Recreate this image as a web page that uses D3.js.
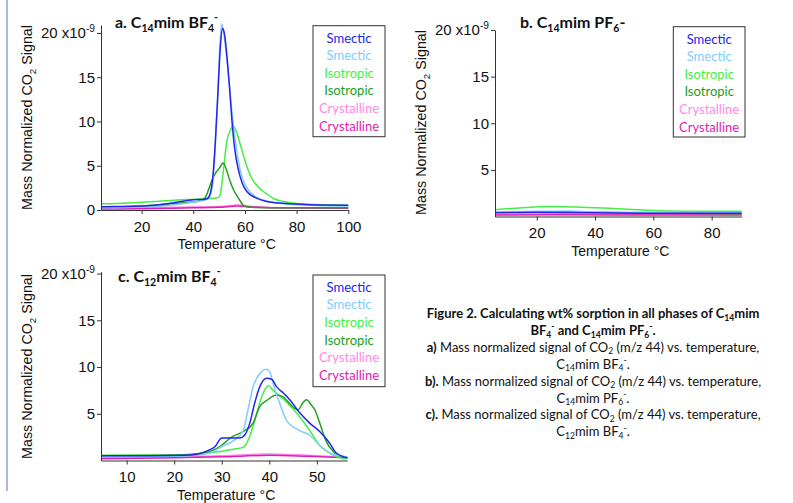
<!DOCTYPE html>
<html>
<head>
<meta charset="utf-8">
<script src="https://cdn.jsdelivr.net/npm/d3@7"></script>
<style>
  body { margin: 0; background: #fff; }
  svg text { font-family: "Liberation Sans", Arial, sans-serif; }
  .cal { font-family: Lato, "Open Sans", sans-serif; }
</style>
</head>
<body>
<div id="chart"></div>
<script>

// ---- data (temperature °C, signal in 1e-9 units) ----

const phaseNames = ["Smectic", "Smectic", "Isotropic", "Isotropic", "Crystalline", "Crystalline"];
const phaseColors = ["#2424ee", "#80ccff", "#44ee44", "#22a022", "#ff88e6", "#e01cb4"];

// panel a: C14mim BF4-
const aSmecticDark = [[4.3,0.38],[10,0.4],[20,0.45],[25,0.55],[30,0.7],[35,0.95],[40,1.15],[44,1.2],[45.5,1.3],[46.5,1.8],[47.5,3.5],[48.5,7.5],[49.5,13],[50.5,18.5],[51.3,20.5],[52,20],[53,17.5],[54,14],[55,10],[56,7],[57.5,4.5],[59,3],[61,2],[64,1.4],[68,1.0],[75,0.75],[85,0.6],[100,0.55]];
const aSmecticLight = [[4.3,0.25],[20,0.35],[30,0.5],[38,0.8],[42,1.0],[45,1.15],[46.5,1.6],[47.5,3],[48.5,7],[49.5,13],[50.3,18.5],[51,21],[51.8,20],[53,17],[54,14],[55,11],[56,8.5],[57.5,5.5],[59,3.6],[61,2.4],[64,1.5],[70,0.9],[80,0.6],[100,0.45]];
const aIsoLight = [[4.3,0.7],[15,0.8],[25,0.95],[35,1.15],[40,1.2],[45,1.3],[49,1.35],[50.3,1.6],[51,2.8],[51.8,4.8],[53,7.8],[54.2,8.9],[55.4,9.5],[56.5,9],[58,7.6],[60,5.6],[61.5,4.3],[63,3.4],[65.5,2.5],[68,1.9],[71,1.3],[75,0.95],[81,0.7],[90,0.6],[100,0.55]];
const aIsoDark = [[4.3,0.3],[15,0.4],[25,0.55],[35,0.8],[42,1.0],[44,1.2],[45,1.6],[46.3,2.6],[47.3,3.4],[48.5,4.1],[49.5,4.5],[50.5,4.9],[51.5,5.3],[52.3,5.0],[53,4.4],[54.2,3.3],[55.4,2.4],[56.7,1.7],[58,1.1],[59.5,0.5],[62,0.3],[75,0.25],[100,0.25]];
const aCrystLight = [[4.3,0.2],[20,0.25],[40,0.35],[50,0.4],[55,0.5],[57,0.6],[60,0.5],[65,0.35],[75,0.25],[100,0.2]];
const aCrystDark = [[4.3,0.1],[20,0.15],[40,0.25],[50,0.3],[57,0.45],[62,0.35],[70,0.25],[100,0.2]];

// panel b: C14mim PF6-
const bSmecticDark = [[5.7,0.4],[20,0.45],[40,0.4],[60,0.35],[90.3,0.35]];
const bSmecticLight = [[5.7,0.5],[20,0.55],[30,0.6],[40,0.5],[60,0.45],[90.3,0.4]];
const bIsoLight = [[5.7,0.72],[15,0.95],[25,1.07],[35,1.0],[45,0.88],[55,0.72],[65,0.58],[75,0.55],[90.3,0.55]];
const bIsoDark = [[5.7,0.45],[20,0.5],[35,0.5],[50,0.4],[70,0.35],[90.3,0.3]];
const bCrystLight = [[5.7,0.25],[30,0.3],[60,0.25],[90.3,0.25]];
const bCrystDark = [[5.7,0.15],[30,0.2],[60,0.15],[90.3,0.15]];

// panel c: C12mim BF4-
const cSmecticDark = [[4.6,0.5],[15,0.5],[22,0.55],[25,0.7],[26.8,1.0],[28.6,1.5],[30,2.4],[31.7,2.4],[33.8,2.4],[34.8,2.7],[35.9,4.0],[36.9,6.1],[38,7.9],[39.4,8.8],[40.5,8.7],[41.5,7.9],[43,7.2],[44.3,6.5],[46.4,5.1],[48.5,4.0],[50.6,3.1],[52.7,1.85],[54.1,0.8],[56.4,0.3]];
const cSmecticLight = [[4.6,0.4],[20,0.45],[25,0.6],[28,0.9],[30,1.5],[32.4,2.1],[34.5,3.2],[35.5,5.4],[36.6,7.9],[38,9.3],[39.4,9.75],[40.1,9.5],[40.8,8.2],[42.2,6.1],[43.6,4.3],[46.4,3.2],[48.5,2.7],[50.6,1.6],[52.7,0.8],[55.5,0.45],[56.4,0.4]];
const cIsoLight = [[4.6,0.55],[20,0.6],[27,0.8],[30,1.0],[32.4,1.2],[34.5,1.4],[35.9,2.6],[37.3,5.0],[38.7,7.2],[39.8,8.0],[40.8,7.5],[42.9,6.6],[45,5.5],[47.1,4.2],[48.5,3.2],[50.6,1.6],[52.7,0.8],[54.8,0.3],[56.4,0.2]];
const cIsoDark = [[4.6,0.5],[20,0.55],[26,0.8],[29,1.3],[32.4,2.6],[34.5,3.1],[36.6,4.0],[38,5.8],[39.4,6.4],[41.5,7.0],[42.9,6.8],[44.6,5.9],[46,5.4],[47.1,6.2],[47.8,6.5],[48.9,5.9],[49.6,5.4],[50.6,4.0],[52,2.0],[53.4,1.0],[54.8,0.45],[56.4,0.3]];
const cCrystLight = [[4.6,0.3],[20,0.4],[30,0.5],[40,0.7],[48,0.55],[56.4,0.35]];
const cCrystDark = [[4.6,0.2],[20,0.3],[30,0.4],[40,0.55],[48,0.45],[56.4,0.3]];

const aXTicks = [20, 40, 60, 80, 100];
const bXTicks = [20, 40, 60, 80];
const cXTicks = [10, 20, 30, 40, 50];
const aYTicks = [0, 5, 10, 15, 20];
const bYTicks = [5, 10, 15, 20];
const cYTicks = [5, 10, 15, 20];

// ---- layout ----

const width = 793, height = 503;

const svg = d3.select("#chart").append("svg")
  .attr("width", width)
  .attr("height", height);

// page edge line on the left
svg.append("line")
  .attr("x1", 7).attr("x2", 7).attr("y1", 0).attr("y2", 491)
  .attr("stroke", "#8aa4d2").attr("stroke-width", 1.5);

// write text with sub/superscripts; parts = [[text, kind, bold]]
function rich(t, parts, size, scale = 0.68, subShift = 0.28) {
  let shift = 0;
  parts.forEach(([s, k, b]) => {
    const target = k === "sub" ? subShift : k === "sup" ? -0.42 : 0;
    const ts = t.append("tspan").text(s);
    const dy = (target - shift) * size;
    if (dy) ts.attr("dy", dy);
    if (k) ts.attr("font-size", size * scale);
    if (b !== undefined) ts.attr("font-weight", b ? "bold" : "normal");
    shift = target;
  });
}

const panels = [
  {
    xDomain: [4.3, 100], xRange: [101, 348.3], yDomain: [0, 20.9], yRange: [210, 25],
    xTicks: aXTicks, yTicks: aYTicks,
    series: [aCrystLight, aCrystDark, aIsoLight, aIsoDark, aSmecticLight, aSmecticDark],
    title: [["a. C"], ["14", "sub"], ["mim BF"], ["4", "sub"], ["-", "sup"]],
    titleX: 115, titleY: 28,
    legend: { x: 313, y: 25.7, w: 72, h: 111 },
    yLabel: { x: 32, y: 117.5 }
  },
  {
    xDomain: [5.7, 90.3], xRange: [495, 741.7], yDomain: [0, 20], yRange: [216.5, 30],
    xTicks: bXTicks, yTicks: bYTicks,
    series: [bCrystLight, bCrystDark, bIsoLight, bIsoDark, bSmecticLight, bSmecticDark],
    title: [["b. C"], ["14", "sub"], ["mim PF"], ["6", "sub"], ["-"]],
    titleX: 520, titleY: 28,
    legend: { x: 673.3, y: 26.7, w: 71.7, h: 110.3 },
    yLabel: { x: 426, y: 122.5 }
  },
  {
    xDomain: [4.6, 56.4], xRange: [101, 347.3], yDomain: [0, 20.2], yRange: [460.5, 271.7],
    xTicks: cXTicks, yTicks: cYTicks,
    series: [cCrystLight, cCrystDark, cIsoLight, cIsoDark, cSmecticLight, cSmecticDark],
    title: [["c. C"], ["12", "sub"], ["mim BF"], ["4", "sub"], ["-", "sup"]],
    titleX: 118, titleY: 281.5,
    legend: { x: 313, y: 275, w: 72, h: 111.7 },
    yLabel: { x: 32, y: 366.5 }
  }
];

// draw order is crystalline, isotropic, smectic; colours follow that order
const seriesColor = [phaseColors[4], phaseColors[5], phaseColors[2], phaseColors[3], phaseColors[1], phaseColors[0]];

panels.forEach(p => {
  const x = d3.scaleLinear().domain(p.xDomain).range(p.xRange);
  const y = d3.scaleLinear().domain(p.yDomain).range(p.yRange);
  const g = svg.append("g");

  const line = d3.line()
    .x(d => x(d[0]))
    .y(d => y(d[1]))
    .curve(d3.curveMonotoneX);

  g.selectAll("path.curve")
    .data(p.series)
    .join("path")
    .attr("class", "curve")
    .attr("d", line)
    .attr("fill", "none")
    .attr("stroke", (d, i) => seriesColor[i])
    .attr("stroke-width", 1.5);

  // axes
  const xAxis = g.append("g")
    .attr("transform", `translate(0,${y(0)})`)
    .call(d3.axisBottom(x).tickValues(p.xTicks).tickSize(4).tickSizeOuter(0).tickPadding(7));
  const yAxis = g.append("g")
    .attr("transform", `translate(${p.xRange[0]},0)`)
    .call(d3.axisLeft(y).tickValues(p.yTicks).tickSize(4).tickSizeOuter(0).tickPadding(2));

  [xAxis, yAxis].forEach(a => {
    a.select(".domain").attr("stroke", "#333");
    a.selectAll(".tick line").attr("stroke", "#333");
    a.selectAll(".tick text")
      .attr("fill", "#111")
      .attr("font-size", 15)
      .attr("font-family", "'Liberation Sans', Arial, sans-serif");
  });

  // top tick label with the 10^-9 factor
  yAxis.selectAll(".tick text")
    .filter(d => d === 20)
    .each(function () {
      const t = d3.select(this).text("");
      rich(t, [["20 x10"], ["-9", "sup"]], 15);
    });

  // axis titles
  g.append("text")
    .attr("x", (p.xRange[0] + p.xRange[1]) / 2 + 2)
    .attr("y", y(0) + 39)
    .attr("text-anchor", "middle")
    .attr("font-size", 14)
    .attr("fill", "#111")
    .text("Temperature °C");

  const yl = g.append("text")
    .attr("transform", `translate(${p.yLabel.x},${p.yLabel.y}) rotate(-90)`)
    .attr("text-anchor", "middle")
    .attr("font-size", 14.3)
    .attr("fill", "#111");
  rich(yl, [["Mass Normalized CO"], ["2", "sub"], [" Signal"]], 14.3);

  // panel title
  const tt = g.append("text")
    .attr("class", "cal")
    .attr("x", p.titleX)
    .attr("y", p.titleY)
    .attr("font-size", 16)
    .attr("font-weight", "bold")
    .attr("fill", "#111");
  rich(tt, p.title, 16, 0.66);

  // legend
  const lg = g.append("g");
  lg.append("rect")
    .attr("x", p.legend.x).attr("y", p.legend.y)
    .attr("width", p.legend.w).attr("height", p.legend.h)
    .attr("fill", "#fff").attr("stroke", "#333").attr("stroke-width", 1);
  lg.selectAll("text")
    .data(phaseNames)
    .join("text")
    .attr("class", "cal")
    .attr("x", p.legend.x + p.legend.w / 2)
    .attr("y", (d, i) => p.legend.y + 16.8 + i * 17.6)
    .attr("text-anchor", "middle")
    .attr("font-size", 13)
    .attr("fill", (d, i) => phaseColors[i])
    .text(d => d);
});

// ---- caption ----

const captionLines = [
  [["Figure 2. Calculating wt% sorption in all phases of C", "", true], ["14", "sub", true], ["mim", "", true]],
  [["BF", "", true], ["4", "sub", true], ["-", "sup", true], [" and C", "", true], ["14", "sub", true], ["mim PF", "", true], ["6", "sub", true], ["-", "sup", true], [".", "", true]],
  [["a)", "", true], [" Mass normalized signal of CO", "", false], ["2", "sub", false], [" (m/z 44) vs. temperature,", "", false]],
  [["C"], ["14", "sub"], ["mim BF"], ["4", "sub"], ["-", "sup"], ["."]],
  [["b).", "", true], [" Mass normalized signal of CO", "", false], ["2", "sub", false], [" (m/z 44) vs. temperature,", "", false]],
  [["C"], ["14", "sub"], ["mim PF"], ["6", "sub"], ["-", "sup"], ["."]],
  [["c).", "", true], [" Mass normalized signal of CO", "", false], ["2", "sub", false], [" (m/z 44) vs. temperature,", "", false]],
  [["C"], ["12", "sub"], ["mim BF"], ["4", "sub"], ["-", "sup"], ["."]]
];

captionLines.forEach((parts, i) => {
  const t = svg.append("text")
    .attr("class", "cal")
    .attr("x", 593)
    .attr("y", 318 + i * 16.9)
    .attr("text-anchor", "middle")
    .attr("font-size", 13)
    .attr("fill", "#111");
  rich(t, parts, 13, 0.66, 0.2);
});

</script>
</body>
</html>
